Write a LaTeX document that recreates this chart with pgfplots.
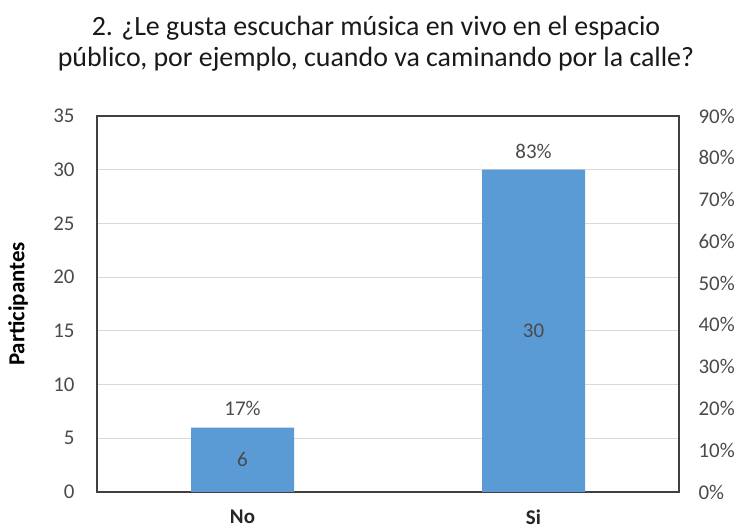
\documentclass[border=0pt]{standalone}
\usepackage{fontspec}
\setmainfont{Carlito}
\usepackage{pgfplots}
\pgfplotsset{compat=1.18}
\definecolor{barblue}{HTML}{5B9BD5}
\definecolor{txt}{HTML}{4A4A4A}
\definecolor{gridc}{HTML}{D9D9D9}
\definecolor{framec}{HTML}{404040}
\begin{document}
\begin{tikzpicture}[x=1bp,y=1bp]
\useasboundingbox (-97,-37) rectangle (646,492);
\begin{axis}[
  at={(0,0)}, anchor=south west,
  scale only axis, width=582bp, height=376bp,
  xmin=-0.5, xmax=1.5, ymin=0, ymax=35,
  xtick={0,1}, xticklabels={No,Si},
  ytick={0,5,...,35},
  ymajorgrids, grid style={gridc, line width=1.2bp},
  major tick length=0pt,
  axis line style={framec, line width=1.3bp},
  /pgf/number format/assume math mode=true,
  yticklabel style={txt, font=\fontsize{21}{24}\selectfont, xshift=-19bp},
  xticklabel style={black!85, font=\bfseries\fontsize{21}{24}\selectfont, yshift=-14bp},
  ylabel={\bfseries Participantes},
  every axis y label/.style={at={(axis description cs:0,0.5)}, xshift=-79bp, rotate=90, anchor=center, font=\fontsize{23}{26}\selectfont, text=black},
  ybar, bar width=103bp, bar shift=0pt,
]
\addplot[fill=barblue, draw=none,
  visualization depends on=y \as \rawy,
  nodes near coords,
  nodes near coords style={txt, font=\fontsize{21}{24}\selectfont, anchor=center, shift={(axis direction cs:0,-\rawy/2)}},
] coordinates {(0,6) (1,30)};
\addplot[draw=none, fill=none, forget plot, bar shift=0pt,
  point meta=explicit symbolic,
  nodes near coords,
  nodes near coords style={txt, font=\fontsize{21}{24}\selectfont, anchor=south, yshift=8bp},
] coordinates {(0,6) [17\%] (1,30) [83\%]};
\end{axis}
\begin{axis}[
  at={(0,0)}, anchor=south west,
  scale only axis, width=582bp, height=376bp,
  xmin=-0.5, xmax=1.5, ymin=0, ymax=0.9,
  axis x line=none,
  axis y line*=right,
  ytick={0,0.1,...,0.9},
  yticklabel={\pgfmathparse{round(\tick*100)}\pgfmathprintnumber[fixed,precision=0]{\pgfmathresult}\%},
  major tick length=0pt,
  axis line style={framec, line width=1.3bp},
  /pgf/number format/assume math mode=true,
  yticklabel style={txt, font=\fontsize{21}{24}\selectfont, xshift=16bp},
]
\addplot[draw=none] coordinates {(0,0)};
\end{axis}
\node[align=center, font=\fontsize{28}{31}\selectfont, text=black!90] at (279,448) {2. ¿Le gusta escuchar música en vivo en el espacio\\público, por ejemplo, cuando va caminando por la calle?};
\end{tikzpicture}
\end{document}
